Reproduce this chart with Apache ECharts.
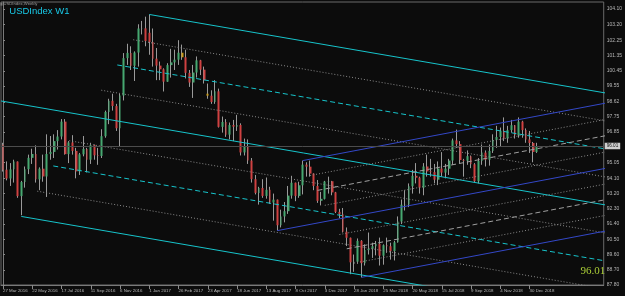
<!DOCTYPE html>
<html>
<head>
<meta charset="utf-8">
<script src="https://cdn.jsdelivr.net/npm/echarts@6/dist/echarts.min.js"></script>
<style>
html,body{margin:0;padding:0;background:#0c0c0c;}
#c{width:625px;height:296px;}
</style>
</head>
<body>
<div id="c"></div>
<script>
// ---- Weekly USDIndex candles (week 0 = 27 Mar 2016) ----
const opens = [96.08,94.61,94.09,94.63,95.09,93.05,93.88,94.64,95.31,95.54,94.04,94.67,94.21,95.54,95.66,96.30,96.57,97.45,95.53,96.22,95.72,94.51,95.52,95.84,95.20,96.06,95.46,95.42,96.59,98.02,98.68,98.37,97.06,98.99,101.20,101.51,100.75,101.53,102.95,102.96,102.70,102.15,101.17,100.76,100.54,99.81,100.79,100.95,101.11,101.52,101.25,100.33,99.76,100.35,101.07,100.52,99.10,98.98,98.61,99.24,97.14,97.43,96.68,97.25,97.15,97.25,95.63,95.99,95.15,94.05,93.24,93.53,93.06,93.42,92.67,92.84,91.33,91.85,92.16,93.08,93.84,93.06,93.69,94.91,94.79,94.38,93.65,92.77,92.89,93.91,93.93,93.27,92.12,91.98,90.95,90.59,89.14,89.18,90.41,89.09,89.86,89.94,90.09,90.23,89.53,90.15,90.09,89.80,90.32,91.55,92.54,92.55,93.63,94.25,94.14,93.55,94.80,94.51,94.47,94.02,94.68,94.44,94.67,95.15,96.34,96.12,95.18,95.14,95.41,94.93,93.93,95.13,95.62,95.20,95.72,96.37,96.54,96.91,96.46,96.95,97.24,96.65,97.45,96.95,96.40,96.19,95.66];
const highs = [96.20,95.10,95.00,95.20,95.10,93.95,94.80,95.50,95.85,96.05,94.75,95.50,96.70,96.60,96.70,96.95,97.60,97.60,96.30,96.65,95.90,95.60,96.60,95.90,96.20,96.10,95.90,97.00,98.10,98.80,99.10,98.50,99.10,101.50,102.05,101.90,101.60,103.20,103.40,103.65,103.78,102.95,101.80,101.00,100.60,100.90,101.75,101.70,102.26,102.00,101.70,100.50,100.80,101.30,101.10,100.70,99.70,99.30,99.90,99.40,97.75,97.60,97.40,97.55,97.85,97.35,96.45,96.40,95.30,94.30,93.60,94.05,94.15,93.60,93.20,92.85,92.25,92.70,93.65,94.25,93.85,93.90,95.15,95.05,95.15,94.40,94.00,93.30,93.95,94.20,93.95,93.30,92.30,92.35,91.20,90.60,89.60,90.55,90.45,90.20,90.90,90.30,90.40,90.60,90.20,90.60,90.30,90.40,91.85,92.85,93.40,93.80,94.60,95.00,94.20,95.00,95.50,95.25,94.95,95.10,95.65,94.95,95.25,96.45,96.98,96.30,95.25,95.75,95.45,95.00,95.30,96.10,95.75,96.10,96.70,97.20,97.10,97.70,97.20,97.55,97.25,97.70,97.50,97.05,96.90,96.25,96.20];
const lows = [94.50,93.98,93.65,93.85,92.95,91.92,93.55,94.35,94.95,93.85,93.40,93.90,93.00,95.20,95.30,95.80,96.40,95.50,95.00,95.50,94.10,94.30,95.40,94.45,94.95,95.20,94.90,95.30,96.50,97.30,98.10,96.90,96.00,98.70,100.80,100.50,99.85,100.70,102.60,101.90,101.40,100.70,99.90,99.90,99.23,99.80,100.05,100.50,100.80,101.10,100.00,99.50,98.85,100.05,100.20,99.70,98.80,98.50,98.50,97.10,96.80,96.55,96.40,96.30,96.90,95.45,95.45,94.95,93.85,93.15,92.55,92.95,92.90,92.60,91.60,91.01,91.20,91.50,92.00,92.90,92.75,92.95,93.15,94.20,94.20,93.40,92.65,92.50,92.85,93.20,93.10,92.05,91.75,90.90,90.10,88.44,88.58,89.05,88.25,88.95,89.60,89.40,89.55,88.95,89.00,89.70,89.30,89.25,90.30,91.40,92.20,92.40,93.20,93.80,93.20,93.10,94.20,94.20,93.80,93.70,94.20,94.10,94.30,94.90,95.90,95.00,94.20,94.90,94.70,93.85,93.80,94.90,94.80,94.85,95.60,95.90,96.00,96.30,96.20,96.80,96.45,96.50,96.50,96.20,95.60,95.05,95.60];
const closes = [94.61,94.09,94.63,95.09,93.05,93.88,94.64,95.31,95.54,94.04,94.67,94.21,95.54,95.66,96.30,96.57,97.45,95.53,96.22,95.72,94.51,95.52,95.84,95.20,96.06,95.46,95.42,96.59,98.02,98.68,98.37,97.06,98.99,101.20,101.51,100.75,101.53,102.95,102.96,102.21,102.15,101.17,100.76,100.54,99.81,100.79,100.95,101.11,101.52,101.25,100.33,99.76,100.35,101.07,100.52,99.90,98.98,98.61,99.24,97.14,97.43,96.68,97.25,97.15,97.25,95.63,95.99,95.15,94.05,93.24,93.53,93.06,93.42,92.67,92.84,91.33,91.85,92.16,93.08,93.84,93.06,93.69,94.91,94.79,94.38,93.65,92.77,92.89,93.91,93.93,93.27,92.12,91.98,90.95,90.59,89.14,89.18,90.41,89.09,89.86,89.94,90.09,90.23,89.53,90.15,90.09,89.80,90.32,91.55,92.54,92.55,93.63,94.25,94.14,93.55,94.80,94.51,94.47,94.02,94.68,94.44,94.67,95.15,96.34,96.12,95.18,95.14,95.41,94.93,93.93,95.13,95.62,95.20,95.72,96.37,96.54,96.91,96.46,96.95,97.24,96.65,97.45,96.95,96.40,96.19,95.66,96.01];
const highlightWeeks = [49, 56];

// ---- axis labels ----
const dateLabels = ["27 Mar 2016","22 May 2016","17 Jul 2016","11 Sep 2016","6 Nov 2016","1 Jan 2017","26 Feb 2017","23 Apr 2017","18 Jun 2017","13 Aug 2017","8 Oct 2017","3 Dec 2017","28 Jan 2018","25 Mar 2018","20 May 2018","15 Jul 2018","9 Sep 2018","4 Nov 2018","30 Dec 2018"];
const dateLabelWeeks = [0,8,16,24,32,40,48,56,64,72,80,88,96,104,112,120,128,136,144];
const priceTicks = [104.10,103.20,102.25,101.35,100.45,99.55,98.62,97.75,96.85,95.05,94.10,93.20,92.30,91.40,90.50,89.60,88.70,87.80];
const currentPrice = 96.01;

// ---- descending pitchfork (9 parallel lines) ----
const descStartWeek  = [40, 35.625, 31.25, 26.875, -0.54, 18.125, 13.75, 9.375, 5];
const descStartPrice = [103.78, 102.288, 100.797, 99.306, 98.671, 96.323, 94.832, 93.341, 91.85];
const descEndWeek = 166;
const descEndPrice   = [99.096, 97.442, 95.789, 94.135, 92.481, 90.827, 89.174, 87.520, 85.866];

// ---- ascending pitchfork (9 parallel lines) ----
const ascStartWeek  = [82, 84, 86, 88, 75, 92, 94, 96, 98];
const ascStartPrice = [95.15, 94.269, 93.388, 92.506, 91.01, 90.781, 89.938, 89.094, 88.25];
const ascEndWeek = 166;
const ascEndPrice   = [98.594, 97.631, 96.668, 95.704, 94.741, 93.815, 92.890, 91.964, 91.038];

// ---- build ----
const BULL = '#46a870', BEAR = '#cf4141', WICK = '#9a9a9a', HILITE = '#c99a18';
const CYAN = '#17c4cb', BLUE = '#3448c8', DOT = '#8a8a8a', DASH = '#a0a0a0';

const wickData = opens.map((o, i) => [i, o, o, lows[i], highs[i]]);
const bodyData = opens.map((o, i) => {
  const c = closes[i];
  const item = { value: [i, o, c, Math.min(o, c), Math.max(o, c)] };
  if (highlightWeeks.indexOf(i) >= 0) item.itemStyle = { color: HILITE, color0: HILITE, borderColor: HILITE, borderColor0: HILITE };
  return item;
});

function fan(startW, startP, endW, endP, mainColor, midColor) {
  return startW.map((w, k) => {
    let color, type;
    if (k % 4 === 0) { color = mainColor; type = 'solid'; }
    else if (k % 2 === 0) { color = midColor; type = [5, 3]; }
    else { color = DOT; type = [1, 2]; }
    return {
      type: 'line', data: [[w, startP[k]], [endW, endP[k]]],
      symbol: 'none', silent: true, animation: false, z: 4, clip: true,
      lineStyle: { color: color, width: 1, type: type }
    };
  });
}

const series = [
  {
    type: 'candlestick', data: wickData, barWidth: 1, z: 2, silent: true, animation: false,
    itemStyle: { color: WICK, color0: WICK, borderColor: WICK, borderColor0: WICK, borderWidth: 1 },
    markLine: {
      symbol: 'none', silent: true, animation: false,
      lineStyle: { color: '#4c4c4c', width: 1, type: 'solid' },
      label: { show: true, position: 'end', distance: 1, formatter: currentPrice.toFixed(2),
               color: '#111', backgroundColor: '#cfcfcf', fontSize: 4.6, fontFamily: 'Liberation Sans',
               padding: [1, 2, 0.5, 2] },
      data: [{ yAxis: currentPrice }]
    }
  },
  {
    type: 'candlestick', data: bodyData, barWidth: 2.3, z: 3, silent: true, animation: false,
    itemStyle: { color: BULL, color0: BEAR, borderColor: BULL, borderColor0: BEAR, borderWidth: 0 }
  }
].concat(fan(descStartWeek, descStartPrice, descEndWeek, descEndPrice, CYAN, CYAN))
 .concat(fan(ascStartWeek, ascStartPrice, ascEndWeek, ascEndPrice, BLUE, DASH));

const chart = echarts.init(document.getElementById('c'), null, { renderer: 'canvas', width: 625, height: 296 });
chart.setOption({
  backgroundColor: '#0c0c0c',
  animation: false,
  grid: { left: 0, right: 18.5, top: 2, bottom: 11, show: true, borderColor: '#6a6a6a', borderWidth: 1, backgroundColor: 'transparent' },
  xAxis: {
    type: 'value', min: -0.54, max: 164.27,
    splitLine: { show: false },
    axisLine: { show: true, lineStyle: { color: '#7a7a7a' } },
    axisTick: { show: true, customValues: dateLabelWeeks, length: 4, lineStyle: { color: '#8a8a8a' } },
    axisLabel: {
      show: true, customValues: dateLabelWeeks, margin: 4, align: 'left',
      color: '#b8b8b8', fontSize: 4.4, fontFamily: 'Liberation Sans',
      formatter: v => dateLabels[dateLabelWeeks.indexOf(Math.round(v))]
    }
  },
  yAxis: {
    type: 'value', position: 'right', min: 87.80, max: 104.516, scale: true,
    splitLine: { show: false },
    axisLine: { show: true, lineStyle: { color: '#7a7a7a' } },
    axisTick: { show: true, customValues: priceTicks, length: 2, lineStyle: { color: '#8a8a8a' } },
    axisLabel: {
      show: true, customValues: priceTicks, margin: 3,
      color: '#b8b8b8', fontSize: 5, fontFamily: 'Liberation Sans',
      formatter: v => v.toFixed(2)
    }
  },
  graphic: [
    { type: 'text', left: 3.5, top: 2.2, silent: true, z: 100,
      style: { text: 'USDIndex,Weekly', fill: '#9a9a9a', font: '4.2px "Liberation Sans"' } },
    { type: 'rect', left: 0.5, top: 2.6, silent: true, z: 100, shape: { width: 2, height: 3 }, style: { fill: '#7a7a7a' } },
    { type: 'text', left: 9.3, top: 6.6, silent: true, z: 100,
      style: { text: 'USDIndex W1', fill: '#19c8e6', font: '9.5px "Liberation Sans"' } },
    { type: 'text', left: 580.5, top: 265.5, silent: true, z: 100,
      style: { text: '96.01', fill: '#a9cc36', font: '11px "Liberation Serif"' } }
  ],
  series: series
});
</script>
</body>
</html>
